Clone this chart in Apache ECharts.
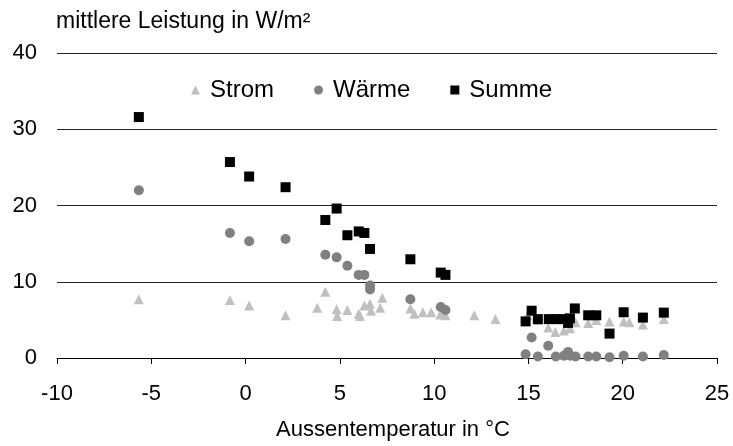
<!DOCTYPE html>
<html>
<head>
<meta charset="utf-8">
<script src="https://cdn.jsdelivr.net/npm/echarts@6/dist/echarts.min.js"></script>
<style>
html,body{margin:0;padding:0;background:#fff;}
#c{width:733px;height:446px;}
</style>
</head>
<body>
<div id="c"></div>
<script>
// ---- data ----
var seriesNames = ['Strom', 'Wärme', 'Summe'];
var xTicks = [-10, -5, 0, 5, 10, 15, 20, 25];
var yTicks = [0, 10, 20, 30, 40];

var stromX = [-5.66, -0.83, 0.19, 2.12, 3.8, 4.23, 4.83, 4.86, 5.4, 6.0, 6.07, 6.3, 6.6, 6.65, 7.14, 7.25, 8.74, 8.95, 9.4, 9.84, 10.33, 10.6, 12.13, 13.25, 14.95, 15.5, 16.05, 16.43, 16.88, 17.2, 17.5, 18.17, 18.6, 19.3, 20.05, 20.35, 21.07, 22.18];
var stromY = [7.7, 7.6, 6.9, 5.6, 6.6, 8.7, 6.4, 5.5, 6.3, 5.8, 5.5, 6.9, 7.1, 6.2, 6.6, 7.9, 6.5, 5.8, 6.0, 6.0, 5.7, 5.6, 5.6, 5.1, 5.6, 5.0, 4.0, 3.4, 3.6, 3.9, 4.7, 4.6, 5.0, 4.8, 4.8, 4.7, 4.4, 5.1];

var waermeX = [-5.66, -0.83, 0.19, 2.12, 4.23, 4.83, 5.4, 6.0, 6.3, 6.6, 6.6, 8.74, 10.35, 10.6, 14.85, 15.17, 15.5, 16.05, 16.45, 16.88, 17.1, 17.23, 17.5, 18.17, 18.6, 19.3, 20.05, 21.07, 22.18];
var waermeY = [22.0, 16.4, 15.3, 15.6, 13.55, 13.2, 12.1, 10.9, 10.9, 9.5, 9.0, 7.7, 6.7, 6.3, 0.5, 2.7, 0.2, 1.6, 0.2, 0.3, 0.8, 0.3, 0.2, 0.2, 0.2, 0.1, 0.3, 0.2, 0.4];

var summeX = [-5.66, -0.83, 0.19, 2.12, 4.23, 4.83, 5.4, 6.0, 6.3, 6.6, 8.74, 10.35, 10.6, 14.85, 15.17, 15.5, 16.08, 16.45, 16.8, 17.1, 17.2, 17.46, 18.17, 18.6, 19.3, 20.05, 21.07, 22.18];
var summeY = [31.6, 25.7, 23.8, 22.4, 18.1, 19.6, 16.1, 16.6, 16.4, 14.3, 12.95, 11.2, 10.9, 4.8, 6.2, 5.1, 5.1, 5.1, 5.1, 4.6, 5.2, 6.5, 5.6, 5.6, 3.2, 6.0, 5.3, 5.95];

function pairs(xs, ys) { return xs.map(function (x, i) { return [x, ys[i]]; }); }

var FONT = '"Liberation Sans", Arial, sans-serif';
var chart = echarts.init(document.getElementById('c'), null, {renderer: 'canvas'});
chart.setOption({
  animation: false,
  backgroundColor: '#ffffff',
  title: {
    text: 'mittlere Leistung in W/m²',
    left: 51, top: 5,
    textStyle: {fontFamily: FONT, fontSize: 23, fontWeight: 'normal', color: '#000'}
  },
  legend: {
    data: seriesNames,
    left: 186, top: 73,
    itemWidth: 9, itemHeight: 9, itemGap: 40,
    textStyle: {fontFamily: FONT, fontSize: 24, color: '#000', padding: [0, 0, 0, 5]}
  },
  grid: {left: 57, right: 16, top: 53, bottom: 83, containLabel: false},
  xAxis: {
    type: 'value',
    min: xTicks[0], max: xTicks[xTicks.length - 1], interval: 5,
    name: 'Aussentemperatur in °C',
    nameLocation: 'middle', nameGap: 61,
    nameTextStyle: {fontFamily: FONT, fontSize: 22, color: '#000', padding: [0, 0, 0, 12]},
    axisLine: {show: true, onZero: false, lineStyle: {color: '#000', width: 1}},
    axisTick: {show: true, length: 6, inside: false, lineStyle: {color: '#000'}},
    axisLabel: {fontFamily: FONT, fontSize: 22, color: '#000', margin: 25},
    splitLine: {show: false}
  },
  yAxis: {
    type: 'value',
    min: yTicks[0], max: yTicks[yTicks.length - 1], interval: 10,
    axisLine: {show: false},
    axisTick: {show: false},
    axisLabel: {fontFamily: FONT, fontSize: 22, color: '#000', margin: 20},
    splitLine: {show: true, lineStyle: {color: '#222', width: 1}}
  },
  series: [
    {name: seriesNames[0], type: 'scatter', symbol: 'triangle', symbolSize: 10,
     itemStyle: {color: '#c0c0c0', opacity: 1}, data: pairs(stromX, stromY), z: 2},
    {name: seriesNames[1], type: 'scatter', symbol: 'circle', symbolSize: 10,
     itemStyle: {color: '#808080', opacity: 1}, data: pairs(waermeX, waermeY), z: 3},
    {name: seriesNames[2], type: 'scatter', symbol: 'rect', symbolSize: 10,
     itemStyle: {color: '#000000', opacity: 1}, data: pairs(summeX, summeY), z: 4}
  ]
});
</script>
</body>
</html>
